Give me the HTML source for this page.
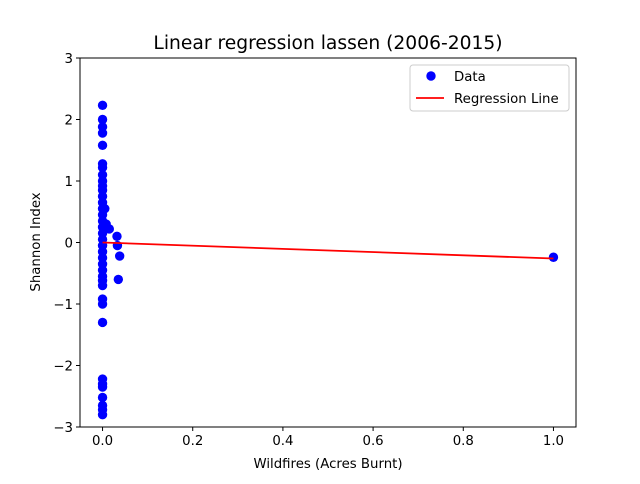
<!DOCTYPE html>
<html><head><meta charset="utf-8"><style>
body{margin:0;background:#fff;font-family:"DejaVu Sans","Liberation Sans",sans-serif}
</style></head><body>
<svg id="chart" width="640" height="480" xmlns="http://www.w3.org/2000/svg" font-family="DejaVu Sans, Liberation Sans, sans-serif"></svg>
<script>
const xData=[0,0,0,0,0,0,0,0,0,0,0,0,0,0,0,0,0,0,0,0,0,0,0,0,0,0,0,0,0,0,0,0,0,0,0,0,0,0.005,0.008,0.015,0.032,0.033,0.038,0.035,1.0];
const yData=[2.23,2.0,1.88,1.78,1.58,1.28,1.22,1.1,1.0,0.92,0.85,0.75,0.65,0.55,0.45,0.35,0.25,0.15,0.05,-0.05,-0.15,-0.25,-0.35,-0.45,-0.55,-0.62,-0.7,-0.92,-1.0,-1.3,-2.22,-2.3,-2.35,-2.52,-2.65,-2.72,-2.8,0.55,0.3,0.22,0.1,-0.05,-0.22,-0.6,-0.24];
const lineX=[0,1];
const lineY=[0.0,-0.26];
const xTicks=[0,0.2,0.4,0.6,0.8,1.0];
const xTickLabels=["0.0","0.2","0.4","0.6","0.8","1.0"];
const yTicks=[-3,-2,-1,0,1,2,3];
const yTickLabels=["\u22123","\u22122","\u22121","0","1","2","3"];
const L=80,R=576,T=58,B=427;
const sx=v=>L+(v+0.05)/1.1*(R-L);
const sy=v=>B-(v+3)/6*(B-T);
const svg=document.getElementById('chart');const NS='http://www.w3.org/2000/svg';
function mk(t,a,txt){const e=document.createElementNS(NS,t);for(const k in a)e.setAttribute(k,a[k]);if(txt!==undefined)e.textContent=txt;svg.appendChild(e);return e;}
let e;
e=mk('text',{x:328,y:49,'font-size':18.7,'text-anchor':'middle'},'Linear regression lassen (2006-2015)');


xData.forEach((x,i)=>{e=mk('circle',{cx:sx(x),cy:sy(yData[i]),r:4.7,fill:'#0000ff'});

});
e=mk('line',{x1:sx(lineX[0]),y1:sy(lineY[0]),x2:sx(lineX[1]),y2:sy(lineY[1]),stroke:'#ff0000','stroke-width':1.8});


e=mk('rect',{x:L,y:T,width:R-L,height:B-T,fill:'none',stroke:'#000','stroke-width':1});


xTicks.forEach((v,i)=>{mk('line',{x1:sx(v),x2:sx(v),y1:B,y2:B+4,stroke:'#000'});
e=mk('text',{x:sx(v),y:B+18,'font-size':13.3,'text-anchor':'middle'},xTickLabels[i]);

});
yTicks.forEach((v,i)=>{mk('line',{x1:L-4,x2:L,y1:sy(v),y2:sy(v),stroke:'#000'});
e=mk('text',{x:L-7,y:sy(v)+5,'font-size':13.3,'text-anchor':'end'},yTickLabels[i]);

});
e=mk('text',{x:328,y:468,'font-size':13.3,'text-anchor':'middle'},'Wildfires (Acres Burnt)');


e=mk('text',{x:40,y:242,'font-size':13.3,'text-anchor':'middle',transform:'rotate(-90 40 242)'},'Shannon Index');


e=mk('rect',{x:410,y:65,width:159,height:46,fill:'#fff',stroke:'#ccc',rx:3});


mk('circle',{cx:431,cy:76,r:4.7,fill:'#0000ff'});
e=mk('text',{x:454,y:81,'font-size':13.3},'Data');


mk('line',{x1:416,x2:444,y1:98,y2:98,stroke:'#ff0000','stroke-width':1.8});
e=mk('text',{x:454,y:103,'font-size':13.3},'Regression Line');


</script>
</body></html>
